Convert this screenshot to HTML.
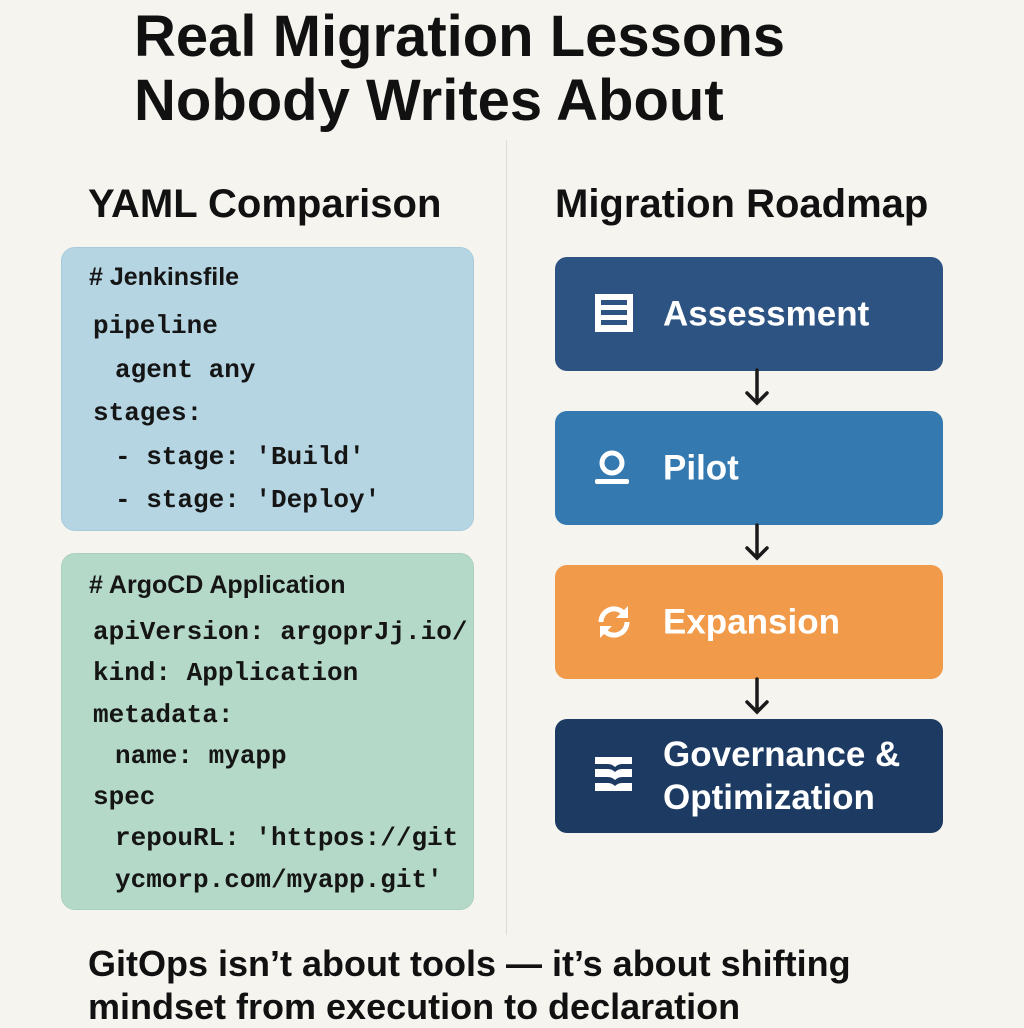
<!DOCTYPE html>
<html><head><meta charset="utf-8"><style>
body{margin:0;width:1024px;height:1024px;background:#f6f4ef;position:relative;overflow:hidden;font-family:"Liberation Sans",sans-serif;color:#111;}
.a{position:absolute;white-space:nowrap}
.t{font-weight:bold;font-size:58px;left:134px;line-height:62px}
.h{font-weight:bold;font-size:40px}
.box{position:absolute;border-radius:14px}
.code{font-family:"Liberation Mono",monospace;font-size:26px;position:absolute;white-space:pre;left:93px;font-weight:bold;color:#151515}
.code div.i{margin-left:22px}
.cm{font-family:"Liberation Sans",sans-serif;font-size:25px;font-weight:bold;position:absolute;left:89px;color:#151515}
.rb{position:absolute;left:555px;width:388px;border-radius:12px;height:114px;color:#fff;font-size:35px;font-weight:bold}
.rb span{position:absolute;left:108px;top:50%;transform:translateY(-50%);line-height:43px}
</style></head><body>
<div class="a t" style="top:6px">Real Migration Lessons</div>
<div class="a t" style="top:70px">Nobody Writes About</div>
<div class="a h" style="left:88px;top:182px">YAML Comparison</div>
<div class="a h" style="left:555px;top:182px">Migration Roadmap</div>
<div style="position:absolute;left:506px;top:140px;width:1px;height:795px;background:#ddd"></div>

<div class="box" style="left:61px;top:247px;width:411px;height:282px;background:#b5d5e3;border:1px solid #a8cbdc"></div>
<div class="cm" style="top:263px"># Jenkinsfile</div>
<div class="code" style="top:305px;line-height:43.5px"><div>pipeline</div><div class="i">agent any</div><div>stages:</div><div class="i">- stage: 'Build'</div><div class="i">- stage: 'Deploy'</div></div>

<div class="box" style="left:61px;top:553px;width:411px;height:355px;background:#b5d9c9;border:1px solid #a9d0bd"></div>
<div class="cm" style="top:571px"># ArgoCD Application</div>
<div class="code" style="top:612px;line-height:41.3px"><div>apiVersion: argoprJj.io/</div><div>kind: Application</div><div>metadata:</div><div class="i">name: myapp</div><div>spec</div><div class="i">repouRL: 'httpos://git</div><div class="i">ycmorp.com/myapp.git'</div></div>

<div class="rb" style="top:257px;background:#2d5382"><svg style="position:absolute;left:40px;top:37px" width="38" height="38"><rect x="0" y="0" width="38" height="38" fill="#fff"/><rect x="6" y="6" width="26" height="5" fill="#2d5382"/><rect x="6" y="16" width="26" height="5" fill="#2d5382"/><rect x="6" y="26" width="26" height="5" fill="#2d5382"/></svg><span>Assessment</span></div>
<div class="rb" style="top:411px;background:#3479b0"><svg style="position:absolute;left:40px;top:38px" width="36" height="36"><circle cx="17" cy="14" r="10" fill="none" stroke="#fff" stroke-width="5"/><rect x="0" y="30" width="34" height="5" rx="2" fill="#fff"/></svg><span>Pilot</span></div>
<div class="rb" style="top:565px;background:#f09a4a"><svg style="position:absolute;left:40px;top:38px" width="38" height="38"><path d="M6 19a13 13 0 0 1 24-7" fill="none" stroke="#fff" stroke-width="5"/><path d="M32 19a13 13 0 0 1-24 7" fill="none" stroke="#fff" stroke-width="5"/><path d="M33 3v12h-12z" fill="#fff"/><path d="M5 35v-12h12z" fill="#fff"/></svg><span>Expansion</span></div>
<div class="rb" style="top:719px;background:#1d3a62"><svg style="position:absolute;left:40px;top:38px" width="38" height="36"><path d="M0 0h37v7h-10q-4 0-7 3q-3-3-7-3h-13z" fill="#fff"/><path d="M0 12h13q4 0 7 3q3-3 7-3h10v8h-10q-4 0-7 3q-3-3-7-3h-13z" fill="#fff"/><path d="M0 26h13q4 0 7 3q3-3 7-3h10v8h-37z" fill="#fff"/></svg><span>Governance &amp;<br>Optimization</span></div>

<svg style="position:absolute;left:0;top:0" width="1024" height="1024">
<g stroke="#1a1a1a" stroke-width="3.5" fill="none" stroke-linecap="round">
<path d="M757 370v33M747 393l10 10 10-10"/>
<path d="M757 525v33M747 548l10 10 10-10"/>
<path d="M757 679v33M747 702l10 10 10-10"/>
</g></svg>

<div class="a" style="left:88px;top:942px;font-size:36px;font-weight:bold;line-height:43px">GitOps isn’t about tools — it’s about shifting<br>mindset from execution to declaration</div>
</body></html>
